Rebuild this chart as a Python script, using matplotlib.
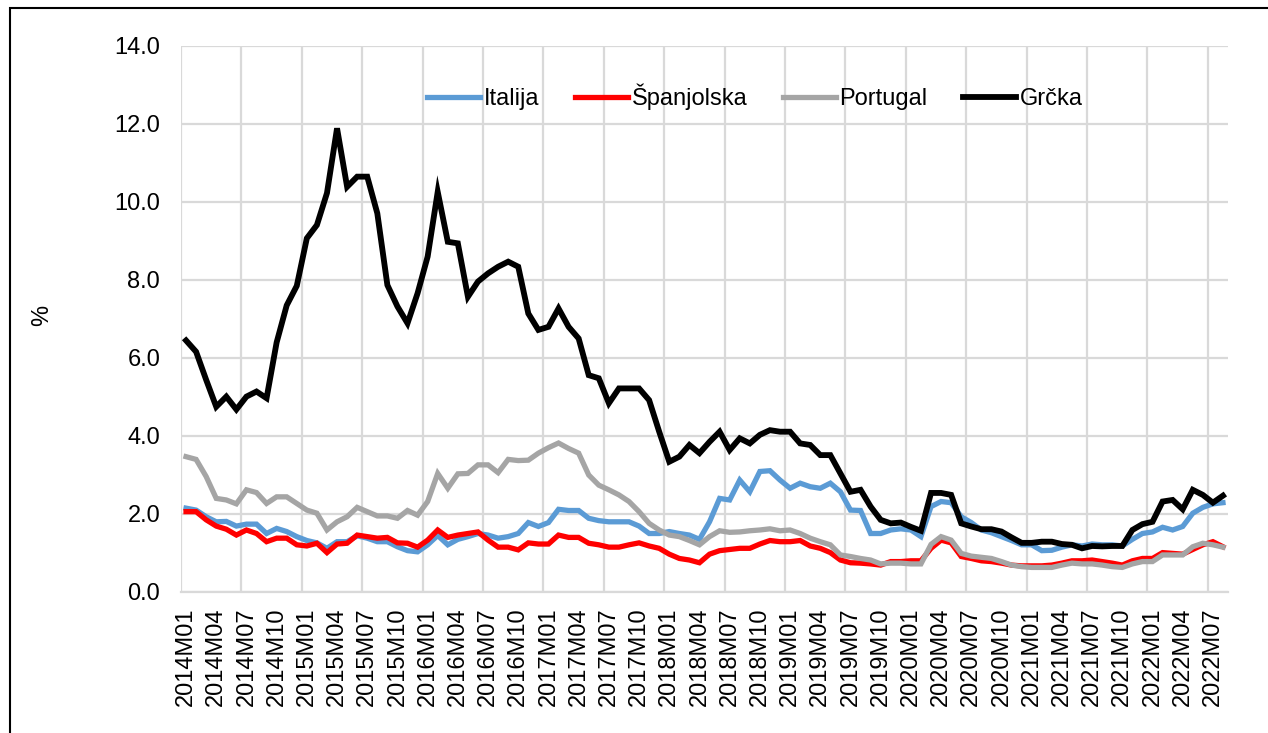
import matplotlib
matplotlib.use("Agg")
import matplotlib.pyplot as plt
from matplotlib.patches import Rectangle
import numpy as np

plt.rcParams['font.family'] = ['Liberation Sans', 'DejaVu Sans']

# monthly categories 2014M01 .. 2022M08
months = [f"{y}M{m:02d}" for y in range(2014, 2023) for m in range(1, 13)][:104]

italija = [2.15, 2.10, 1.93, 1.80, 1.81, 1.69, 1.74, 1.74, 1.50, 1.63,
           1.55, 1.42, 1.32, 1.26, 1.12, 1.29, 1.29, 1.44, 1.38, 1.29,
           1.29, 1.16, 1.06, 1.03, 1.21, 1.45, 1.21, 1.35, 1.42, 1.50,
           1.46, 1.38, 1.42, 1.50, 1.78, 1.68, 1.78, 2.12, 2.09, 2.09,
           1.89, 1.83, 1.80, 1.80, 1.80, 1.69, 1.50, 1.50, 1.55, 1.50,
           1.46, 1.35, 1.80, 2.40, 2.36, 2.87, 2.57, 3.09, 3.11, 2.87,
           2.66, 2.79, 2.70, 2.66, 2.79, 2.57, 2.10, 2.09, 1.50, 1.50,
           1.59, 1.62, 1.59, 1.42, 2.19, 2.32, 2.29, 1.93, 1.78, 1.59,
           1.52, 1.42, 1.32, 1.21, 1.21, 1.06, 1.07, 1.15, 1.21, 1.18,
           1.23, 1.21, 1.21, 1.18, 1.35, 1.50, 1.54, 1.66, 1.59, 1.68,
           2.02, 2.17, 2.26, 2.29]

spanjolska = [2.06, 2.06, 1.85, 1.69, 1.61, 1.46, 1.59, 1.50, 1.29, 1.38,
              1.38, 1.21, 1.18, 1.25, 1.01, 1.23, 1.25, 1.46, 1.42, 1.38,
              1.40, 1.26, 1.25, 1.15, 1.33, 1.59, 1.40, 1.46, 1.50, 1.54,
              1.33, 1.15, 1.15, 1.08, 1.26, 1.23, 1.23, 1.46, 1.40, 1.40,
              1.25, 1.21, 1.15, 1.15, 1.21, 1.26, 1.18, 1.12, 0.97, 0.86,
              0.82, 0.75, 0.97, 1.06, 1.09, 1.12, 1.12, 1.23, 1.32, 1.29,
              1.29, 1.32, 1.18, 1.12, 1.01, 0.82, 0.75, 0.74, 0.72, 0.69,
              0.78, 0.78, 0.80, 0.80, 1.12, 1.33, 1.26, 0.91, 0.86, 0.80,
              0.78, 0.74, 0.69, 0.67, 0.67, 0.67, 0.69, 0.74, 0.80, 0.80,
              0.82, 0.78, 0.74, 0.69, 0.80, 0.86, 0.86, 1.01, 0.99, 0.97,
              1.09, 1.21, 1.29, 1.16]

portugal = [3.47, 3.40, 2.96, 2.40, 2.36, 2.26, 2.62, 2.55, 2.27, 2.44,
            2.44, 2.27, 2.10, 2.02, 1.59, 1.80, 1.93, 2.17, 2.06, 1.95,
            1.95, 1.89, 2.09, 1.97, 2.32, 3.04, 2.66, 3.03, 3.04, 3.26,
            3.26, 3.06, 3.40, 3.37, 3.38, 3.56, 3.70, 3.82, 3.68, 3.56,
            3.00, 2.74, 2.62, 2.49, 2.32, 2.06, 1.76, 1.59, 1.46, 1.42,
            1.32, 1.21, 1.42, 1.57, 1.53, 1.54, 1.57, 1.59, 1.62, 1.57,
            1.59, 1.50, 1.38, 1.29, 1.21, 0.95, 0.91, 0.86, 0.82, 0.72,
            0.74, 0.74, 0.72, 0.72, 1.22, 1.42, 1.33, 0.99, 0.92, 0.89,
            0.86, 0.78, 0.69, 0.65, 0.63, 0.63, 0.63, 0.69, 0.74, 0.72,
            0.72, 0.69, 0.65, 0.63, 0.72, 0.78, 0.78, 0.95, 0.95, 0.95,
            1.16, 1.25, 1.21, 1.15]

grcka = [6.45, 6.16, 5.44, 4.75, 5.01, 4.68, 5.01, 5.14, 4.97, 6.40,
         7.35, 7.85, 9.07, 9.41, 10.23, 11.89, 10.39, 10.65, 10.65, 9.71,
         7.87, 7.32, 6.89, 7.66, 8.60, 10.26, 8.98, 8.94, 7.57, 7.96,
         8.17, 8.34, 8.47, 8.34, 7.14, 6.72, 6.80, 7.27, 6.80, 6.50,
         5.56, 5.48, 4.84, 5.22, 5.22, 5.22, 4.92, 4.11, 3.34, 3.47,
         3.77, 3.56, 3.85, 4.11, 3.64, 3.94, 3.81, 4.03, 4.15, 4.11,
         4.11, 3.81, 3.77, 3.51, 3.51, 3.04, 2.57, 2.62, 2.19, 1.85,
         1.76, 1.78, 1.67, 1.57, 2.54, 2.54, 2.49, 1.76, 1.68, 1.61,
         1.61, 1.55, 1.40, 1.26, 1.26, 1.29, 1.29, 1.23, 1.21, 1.12,
         1.18, 1.17, 1.18, 1.18, 1.59, 1.74, 1.80, 2.32, 2.36, 2.12,
         2.62, 2.49, 2.29, 2.47]

series = [
    ("Italija", italija, "#5B9BD5"),
    ("Španjolska", spanjolska, "#FF0000"),
    ("Portugal", portugal, "#A5A5A5"),
    ("Grčka", grcka, "#000000"),
]

fig = plt.figure(figsize=(12.68, 7.33), dpi=100)
ax = fig.add_axes([181 / 1268, 1 - 592 / 733, 1047 / 1268, 546 / 733])

x = np.arange(len(months))
for name, vals, col in series:
    lw = 4.2 if name == "Grčka" else 3.8
    ax.plot(x, vals, color=col, lw=lw, label=name, solid_joinstyle='miter')

# categories sit between the gridlines (excel style)
ax.set_xlim(-0.5, len(months) - 0.5)
ax.set_ylim(0, 14)
ax.set_yticks(np.arange(0, 14.1, 2))
ax.set_yticklabels([f"{v:.1f}" for v in np.arange(0, 14.1, 2)], fontsize=17)
ax.set_xticks(x[::3])
ax.set_xticklabels(months[::3], rotation=90, fontsize=17)
ax.set_xticks(np.arange(-0.5, len(months), 6), minor=True)
ax.tick_params(axis='both', which='both', length=0)
ax.tick_params(axis='y', pad=15)
ax.tick_params(axis='x', pad=11)

ax.grid(False)
ax.grid(axis='y', color='#D9D9D9', lw=1.6)
ax.grid(axis='x', which='minor', color='#D9D9D9', lw=1.6)
ax.set_axisbelow(True)
for s in ['top', 'right', 'left']:
    ax.spines[s].set_visible(False)
ax.spines['bottom'].set_color('#D9D9D9')
ax.spines['bottom'].set_linewidth(1.6)

ax.set_ylabel("%", fontsize=17)
ax.yaxis.set_label_coords(-0.122, 0.507)

fig.legend(loc='center', bbox_to_anchor=(755 / 1268, 1 - 97 / 733), ncol=4,
           frameon=False, fontsize=17, handlelength=2.25, handletextpad=0.15,
           columnspacing=1.5)

# outer frame of the figure
fig.patches.append(Rectangle((10 / 1268, -0.05), 1.1, 1 - 8 / 733 + 0.05,
                             transform=fig.transFigure, fill=False,
                             edgecolor='black', lw=1.5))

fig.savefig("out.png", dpi=100)
